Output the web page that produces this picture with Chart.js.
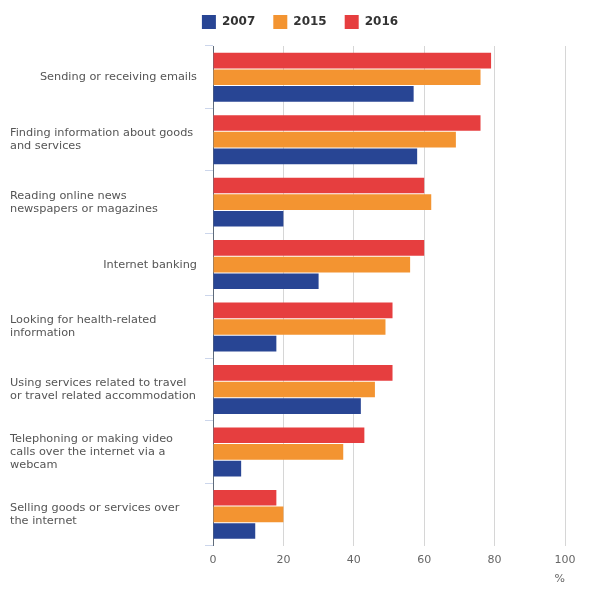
<!DOCTYPE html>
<html>
<head>
<meta charset="utf-8">
<script src="https://cdn.jsdelivr.net/npm/chart.js@4/dist/chart.umd.min.js"></script>
<style>
	html, body { margin: 0; padding: 0; background: #ffffff; }
	#wrap { width: 600px; height: 600px; position: relative; }
</style>
</head>
<body>
<div id="wrap"><canvas id="chart"></canvas></div>
<script>
// 카테고리 (여러 줄 라벨은 배열)
const categories = [
	['Sending or receiving emails'],
	['Finding information about goods', 'and services'],
	['Reading online news', 'newspapers or magazines'],
	['Internet banking'],
	['Looking for health-related', 'information'],
	['Using services related to travel', 'or travel related accommodation'],
	['Telephoning or making video', 'calls over the internet via a', 'webcam'],
	['Selling goods or services over', 'the internet']
];

const values2016 = [79, 76, 60, 60, 51, 51, 43, 18];
const values2015 = [76, 69, 62, 56, 49, 46, 37, 20];
const values2007 = [57, 58, 20, 30, 18, 42, 8, 12];

const xTicks = [0, 20, 40, 60, 80, 100];

const colors = {
	y2016: '#e63e3f',
	y2015: '#f39431',
	y2007: '#284594'
};

const LABEL_FONT = '11.3px "DejaVu Sans"';

// y축 라벨: 한 줄이면 오른쪽 정렬, 여러 줄이면 왼쪽 정렬
const categoryLabelPlugin = {
	id: 'categoryLabels',
	afterDraw: function(chart) {
		const ctx = chart.ctx;
		const yScale = chart.scales.y;
		const lineHeight = 13;
		ctx.save();
		ctx.font = LABEL_FONT;
		ctx.fillStyle = '#555555';
		ctx.textBaseline = 'middle';
		categories.forEach((lines, i) => {
			const cy = yScale.getPixelForValue(i);
			const startY = cy - (lines.length - 1) * lineHeight / 2;
			lines.forEach((line, j) => {
				if (lines.length === 1) {
					ctx.textAlign = 'right';
					ctx.fillText(line, yScale.right - 16, startY + j * lineHeight);
				} else {
					ctx.textAlign = 'left';
					ctx.fillText(line, 10, startY + j * lineHeight);
				}
			});
		});
		ctx.restore();
	}
};

// 범례 아래 여백 추가
const legendGapPlugin = {
	id: 'legendGap',
	beforeInit: function(chart) {
		const origFit = chart.legend.fit;
		chart.legend.fit = function() {
			origFit.bind(chart.legend)();
			this.height += 7;
		};
	}
};

new Chart(document.getElementById('chart'), {
	type: 'bar',
	data: {
		labels: categories.map(c => c.join(' ')),
		datasets: [
			{ label: '2016', data: values2016, backgroundColor: colors.y2016 },
			{ label: '2015', data: values2015, backgroundColor: colors.y2015 },
			{ label: '2007', data: values2007, backgroundColor: colors.y2007 }
		]
	},
	options: {
		indexAxis: 'y',
		responsive: true,
		maintainAspectRatio: false,
		animation: false,
		layout: { padding: { top: -3, right: 35, bottom: 10, left: 35 } },
		datasets: {
			bar: { categoryPercentage: 0.8, barPercentage: 0.94 }
		},
		scales: {
			x: {
				min: 0,
				max: 100,
				afterBuildTicks: function(scale) {
					scale.ticks = xTicks.map(v => ({ value: v }));
				},
				grid: { color: '#d6d6d6', drawTicks: false },
				border: { display: false },
				ticks: {
					color: '#666666',
					padding: 8,
					font: { family: 'DejaVu Sans', size: 11 }
				},
				title: {
					display: true,
					text: '%',
					align: 'end',
					color: '#666666',
					padding: { top: -2, bottom: 4 },
					font: { family: 'DejaVu Sans', size: 11 }
				}
			},
			y: {
				afterFit: function(scale) { scale.width = 178; },
				grid: {
					drawOnChartArea: false,
					drawTicks: true,
					tickLength: 8,
					color: '#ccd6eb'
				},
				border: { display: true, color: '#5f6b7a', width: 1 },
				ticks: { display: false }
			}
		},
		plugins: {
			legend: {
				display: true,
				position: 'top',
				reverse: true,
				labels: {
					boxWidth: 14,
					boxHeight: 14,
					padding: 18,
					color: '#333333',
					font: { family: 'DejaVu Sans', size: 12, weight: 'bold' }
				}
			},
			tooltip: { enabled: false }
		}
	},
	plugins: [categoryLabelPlugin, legendGapPlugin]
});
</script>
</body>
</html>
